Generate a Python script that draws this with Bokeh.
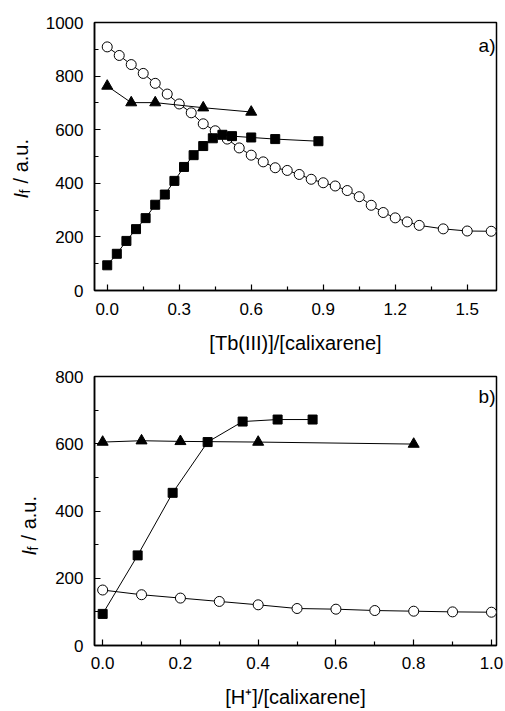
import math
from bokeh.plotting import figure
from bokeh.layouts import column, row
from bokeh.models import Range1d, FixedTicker, NumeralTickFormatter, Label
from bokeh.core.properties import value
from bokeh.embed import file_html
from bokeh.resources import INLINE

FONT = "Liberation Sans"

# ---------------- data: panel a) ----------------
a_circ_x = [0.0, 0.05, 0.1, 0.15, 0.2, 0.25, 0.3, 0.35, 0.4, 0.45, 0.5, 0.55, 0.6, 0.65, 0.7,
            0.75, 0.8, 0.85, 0.9, 0.95, 1.0, 1.05, 1.1, 1.15, 1.2, 1.25, 1.3, 1.4, 1.5, 1.6]
a_circ_y = [909, 877, 843, 810, 773, 733, 696, 663, 622, 596, 565, 532, 505, 480, 458,
            448, 433, 415, 402, 390, 373, 350, 318, 291, 271, 256, 243, 230, 222, 221]
a_tri_x = [0.0, 0.1, 0.2, 0.4, 0.6]
a_tri_y = [763, 701, 701, 682, 666]
a_sq_x = [0.0, 0.04, 0.08, 0.12, 0.16, 0.2, 0.24, 0.28, 0.32, 0.36, 0.4, 0.44, 0.48, 0.52,
          0.6, 0.7, 0.88]
a_sq_y = [94, 137, 185, 229, 270, 320, 358, 409, 461, 505, 539, 568, 581, 576, 571, 565, 557]

a_xticks = [0.0, 0.3, 0.6, 0.9, 1.2, 1.5]
a_xminor = [0.15, 0.45, 0.75, 1.05, 1.35]
a_yticks = [0, 200, 400, 600, 800, 1000]
a_yminor = [100, 300, 500, 700, 900]

# ---------------- data: panel b) ----------------
b_sq_x = [0.0, 0.09, 0.18, 0.27, 0.36, 0.45, 0.54]
b_sq_y = [94, 268, 454, 605, 666, 672, 672]
b_tri_x = [0.0, 0.1, 0.2, 0.4, 0.8]
b_tri_y = [605, 609, 607, 605, 599]
b_circ_x = [0.0, 0.1, 0.2, 0.3, 0.4, 0.5, 0.6, 0.7, 0.8, 0.9, 1.0]
b_circ_y = [165, 151, 141, 131, 121, 110, 108, 104, 102, 100, 99]

b_xticks = [0.0, 0.2, 0.4, 0.6, 0.8, 1.0]
b_xminor = [0.1, 0.3, 0.5, 0.7, 0.9]
b_yticks = [0, 200, 400, 600, 800]
b_yminor = [100, 300, 500, 700]

y_title_parts = ["I", "f", "/ a.u."]

LW = 41          # width of the strip that carries the y-axis title
MAIN_W = 505 - LW
BORDER_L = 94 - LW


def make_fig(h, top, bottom, xr, yr, xt, xm, yt, ym, xlabel, tick_std, title_std):
    p = figure(width=MAIN_W, height=h, output_backend="svg", toolbar_location=None,
               x_range=Range1d(*xr), y_range=Range1d(*yr))
    p.min_border_left = BORDER_L
    p.min_border_right = MAIN_W - BORDER_L - 402
    p.min_border_top = top
    p.min_border_bottom = bottom
    p.background_fill_color = "white"
    p.border_fill_color = "white"
    p.outline_line_color = "black"
    p.outline_line_width = 1.5
    p.xgrid.grid_line_color = None
    p.ygrid.grid_line_color = None
    p.xaxis.ticker = FixedTicker(ticks=xt, minor_ticks=xm)
    p.yaxis.ticker = FixedTicker(ticks=yt, minor_ticks=ym)
    p.xaxis.formatter = NumeralTickFormatter(format="0.0")
    p.yaxis.formatter = NumeralTickFormatter(format="0")
    for ax in (p.xaxis, p.yaxis):
        ax.axis_line_width = 1.5
        ax.axis_line_color = "black"
        ax.major_tick_in = 6
        ax.major_tick_out = 0
        ax.minor_tick_in = 4
        ax.minor_tick_out = 0
        ax.major_tick_line_width = 1.2
        ax.minor_tick_line_width = 1.2
        ax.major_tick_line_color = "black"
        ax.minor_tick_line_color = "black"
        ax.major_label_text_font = FONT
        ax.major_label_text_font_size = "17px"
        ax.major_label_text_color = "black"
    p.yaxis.major_label_standoff = 11
    p.xaxis.major_label_standoff = tick_std
    p.xaxis.axis_label = xlabel
    p.xaxis.axis_label_text_font = FONT
    p.xaxis.axis_label_text_font_size = "20px"
    p.xaxis.axis_label_text_font_style = "normal"
    p.xaxis.axis_label_text_color = "black"
    p.xaxis.axis_label_standoff = title_std
    return p


def label_fig(h, frame_top, frame_bottom, base_x, start_y):
    # frame aligned with the neighbouring plot's frame; data y equals page y
    q = figure(width=LW, height=h, output_backend="svg", toolbar_location=None,
               x_range=Range1d(0, LW), y_range=Range1d(frame_bottom, frame_top),
               x_axis_type=None, y_axis_type=None)
    q.min_border_left = 0
    q.min_border_right = 0
    q.outline_line_color = None
    q.xgrid.grid_line_color = None
    q.ygrid.grid_line_color = None
    common = dict(angle=math.pi / 2, text_font=value(FONT), text_color="black",
                  text_align="center", text_baseline="middle")
    big, small = 20.0, 14.0
    w_i = 0.278 * big
    w_f = 0.278 * small
    w_sp = 0.278 * big
    w_rest = 2.224 * big
    i_c = start_y - w_i / 2
    f_c = start_y - w_i - w_f / 2 + 0.5
    r_c = start_y - w_i - w_f - w_sp - w_rest / 2
    xi = base_x - 0.33 * big
    xf = base_x + 2.5 - 0.33 * small
    q.text(x=[xi], y=[i_c], text=[y_title_parts[0]], text_font_size="20px",
           text_font_style="italic", **common)
    q.text(x=[xf], y=[f_c], text=[y_title_parts[1]], text_font_size="14px", **common)
    q.text(x=[xi], y=[r_c], text=[y_title_parts[2]], text_font_size="20px", **common)
    return q


def panel_tag(p, text, x, y):
    p.add_layout(Label(x=x, y=y, x_units="screen", y_units="screen", text=text,
                       text_font=FONT, text_font_size="19px", text_color="black",
                       text_align="right", text_baseline="middle"))


def series(p, xs, ys, marker, size, fill):
    p.line(xs, ys, line_color="black", line_width=1)
    p.scatter(xs, ys, marker=marker, size=size, fill_color=fill,
              line_color="black", line_width=1)


HA, HB = 358, 353

pa = make_fig(HA, 22, 68, (-0.053, 1.622), (0, 1000), a_xticks, a_xminor,
              a_yticks, a_yminor, "[Tb(III)]/[calixarene]", 12, 14)
series(pa, a_circ_x, a_circ_y, "circle", 10, "white")
series(pa, a_tri_x, a_tri_y, "triangle", 11, "black")
series(pa, a_sq_x, a_sq_y, "square", 9, "black")
panel_tag(pa, "a)", 401, 245)

pb = make_fig(HB, 18, 66, (-0.021, 1.013), (0, 800), b_xticks, b_xminor,
              b_yticks, b_yminor, "[H\u207a]/[calixarene]", 11, 14)
series(pb, b_circ_x, b_circ_y, "circle", 10, "white")
series(pb, b_tri_x, b_tri_y, "triangle", 11, "black")
series(pb, b_sq_x, b_sq_y, "square", 9, "black")
panel_tag(pb, "b)", 401, 249)

la = label_fig(HA, 22, 290, 27, 198)
lb = label_fig(HB, 376, 645, 35, 555)

layout = column(row(la, pa, spacing=0), row(lb, pb, spacing=0), spacing=0)
open("out.html", "w").write(file_html(layout, INLINE))
